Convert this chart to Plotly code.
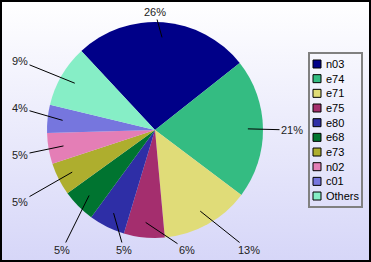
import math
import plotly.graph_objects as go

# ---- data ----
labels = ["n03", "e74", "e71", "e75", "e80", "e68", "e73", "n02", "c01", "Others"]
values = [26.3, 20.9, 13.3, 6.1, 5.4, 5.0, 4.9, 4.6, 4.2, 9.3]
colors = ["#000088", "#34bc82", "#e0dc78", "#a42e6e", "#2e2ea6", "#007430",
          "#aeae2e", "#e47eb6", "#7676de", "#86eec6"]

# ---- layout helpers ----
W, H = 371, 262
CX, CY, R = 155, 130, 108
ROT = -43  # start angle of first slice (degrees, clockwise from 12 o'clock)
# pixel positions of the percentage labels (layout only)
label_pos = [(155, 12), (292, 130), (249, 250), (187, 250), (124, 250),
             (62, 250), (20, 202), (20, 155), (20, 108), (20, 61)]

def xp(px):
    return px / W

def yp(py):
    return 1 - py / H

fig = go.Figure()

# background gradient
fig.add_trace(go.Scatter(
    x=[0, 1, 1, 0, 0], y=[0, 0, 1, 1, 0], fill="toself", mode="lines",
    line=dict(width=0), showlegend=False, hoverinfo="skip",
    fillgradient=dict(type="vertical", colorscale=[[0, "#d6d6f8"], [1, "#ffffff"]]),
))

fig.add_trace(go.Pie(
    labels=labels, values=values, sort=False, direction="clockwise",
    rotation=ROT, textinfo="none", showlegend=False,
    marker=dict(colors=colors, line=dict(width=0)),
    domain=dict(x=[xp(CX - R), xp(CX + R)], y=[yp(CY + R), yp(CY - R)]),
))

total = sum(values)
annotations = []
cum = 0.0
for v, (lx, ly) in zip(values, label_pos):
    mid = math.radians(ROT + (cum + v / 2) / total * 360)
    cum += v
    hx = CX + 0.86 * R * math.sin(mid)
    hy = CY - 0.86 * R * math.cos(mid)
    annotations.append(dict(
        x=xp(hx), y=yp(hy), xref="paper", yref="paper",
        text=f"{round(v / total * 100)}%", showarrow=True, arrowhead=0,
        arrowwidth=1, arrowcolor="#000000", ax=lx - hx, ay=ly - hy,
        font=dict(family="Liberation Sans, Arial", size=11, color="#222222"),
    ))

# manual legend
shapes = []
LX0, LX1, LY0, LY1 = 309, 362, 53, 207
shapes.append(dict(type="rect", xref="paper", yref="paper",
                   x0=xp(LX0), x1=xp(LX1), y0=yp(LY1), y1=yp(LY0),
                   line=dict(color="#808080", width=2)))
for i, (lab, col) in enumerate(zip(labels, colors)):
    cy = 64 + i * 14.67
    shapes.append(dict(type="rect", xref="paper", yref="paper",
                       x0=xp(313), x1=xp(321), y0=yp(cy + 4), y1=yp(cy - 4),
                       fillcolor=col, line=dict(color="#000000", width=1)))
    annotations.append(dict(x=xp(324), y=yp(cy), xref="paper", yref="paper",
                            text=lab, showarrow=False, xanchor="left", yanchor="middle",
                            font=dict(family="Liberation Sans, Arial", size=11, color="#000000")))

# outer border
shapes.append(dict(type="rect", xref="paper", yref="paper", x0=0, x1=1, y0=0, y1=1,
                   line=dict(color="#000000", width=4)))

fig.update_layout(
    width=W, height=H, margin=dict(l=0, r=0, t=0, b=0),
    paper_bgcolor="#ffffff", plot_bgcolor="rgba(0,0,0,0)",
    xaxis=dict(range=[0, 1], domain=[0, 1], visible=False, fixedrange=True),
    yaxis=dict(range=[0, 1], domain=[0, 1], visible=False, fixedrange=True),
    annotations=annotations, shapes=shapes, showlegend=False,
)

fig.write_html("out.html")
